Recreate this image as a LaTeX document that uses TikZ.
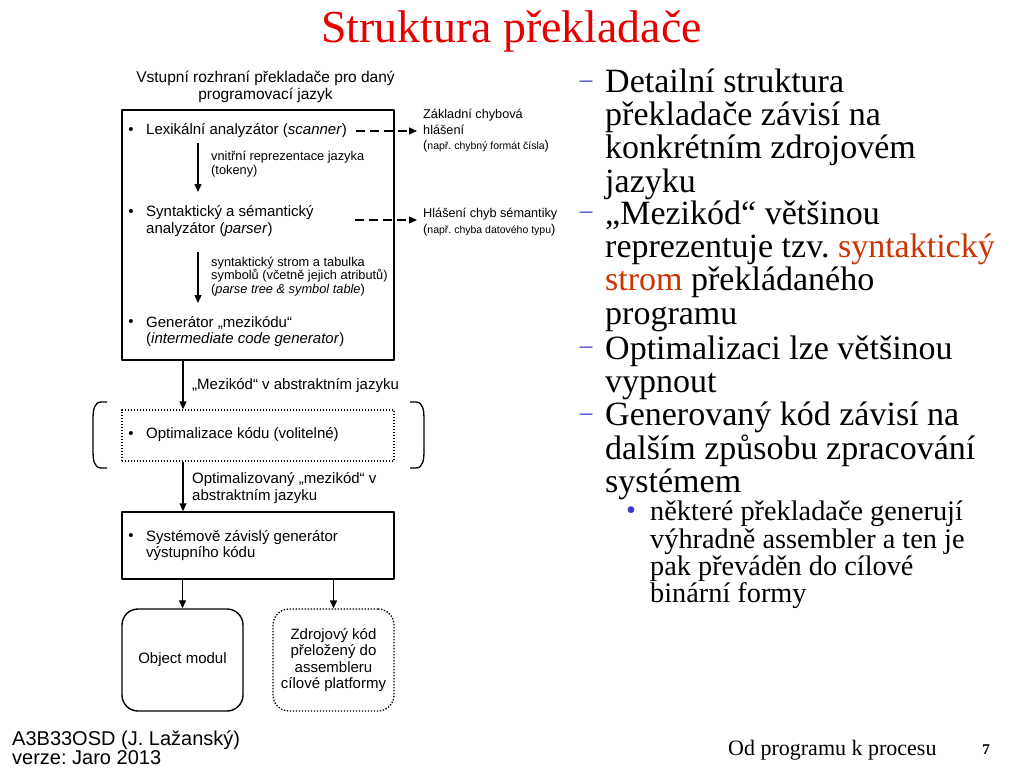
\documentclass[tikz,border=0pt]{standalone}
\usepackage{fontspec}
\setmainfont{Liberation Serif}
\setsansfont{Liberation Sans}
\usetikzlibrary{arrows.meta,calc,positioning}
\frenchspacing
\definecolor{TitleRed}{HTML}{E60000}
\definecolor{TermRed}{HTML}{CC3300}
\definecolor{DashBlue}{HTML}{3A3AC4}
\newcommand{\diagfont}{\sffamily\fontsize{15}{16.5}\selectfont}
\newcommand{\notefont}{\sffamily\fontsize{12.8}{13.8}\selectfont}
\newcommand{\errfont}{\sffamily\fontsize{12.7}{15.5}\selectfont}
\newcommand{\slidefont}{\rmfamily\fontsize{34}{33.25}\selectfont}
\newcommand{\subfont}{\rmfamily\fontsize{28.3}{27.3}\selectfont}
\newcommand{\smallnote}[1]{{\fontsize{10.5}{12}\selectfont #1}}
\newcommand{\boxitem}[4]{%
  \node[inner sep=0pt,font=\diagfont] (#1dot) at (131,#3) {\textbullet};
  \node[itemtext] (#1) at (146,#2) {#4};
}
\tikzset{
  frame/.style={draw,line width=1.4pt,inner sep=0pt},
  dotframe/.style={draw,line width=1.3pt,dash pattern=on 1.4pt off 1.6pt,inner sep=0pt},
  itemtext/.style={inner sep=0pt,anchor=west,align=left,font=\diagfont},
  note/.style={inner sep=0pt,anchor=west,align=left,font=\notefont},
  errnote/.style={inner sep=0pt,anchor=west,align=left,font=\errfont},
  flow/.style={-{Triangle[length=8pt,width=7pt]},line width=1.3pt},
  errflow/.style={flow,dash pattern=on 9pt off 5pt},
  slidetext/.style={inner sep=0pt,anchor=west,align=left,font=\slidefont},
  dashmark/.style={inner sep=0pt,font=\rmfamily\fontsize{25}{25}\selectfont,text=DashBlue},
}

\begin{document}
\begin{tikzpicture}[x=1pt,y=-1pt,line join=round]
  \useasboundingbox[fill=white] (0,0) rectangle (1024,768);
  \node[font=\rmfamily\fontsize{45.8}{50}\selectfont,text=TitleRed,inner sep=0pt]
    (title) at (511.5,31) {Struktura překladače};
  % compiler stages
  \node[align=center,inner sep=0pt,font=\sffamily\fontsize{15.5}{17}\selectfont]
    (caption) at (265.5,86.5) {Vstupní rozhraní překladače pro daný\\programovací jazyk};
  \node[frame,minimum width=272,minimum height=250] (front) at (258,235) {};
  \node[dotframe,minimum width=272,minimum height=51] (opt) at (258,435.5) {};
  \node[frame,minimum width=272,minimum height=67] (back) at (258,545.5) {};
  \node[frame,rounded corners=16pt,minimum width=121,minimum height=102,
        font=\diagfont] (obj) at (182.5,660) {Object modul};
  \node[dotframe,rounded corners=16pt,minimum width=121,minimum height=102,
        align=center,font=\diagfont] (asm) at (333.5,660)
    {Zdrojový kód\\přeložený do\\assembleru\\cílové platformy};
  \boxitem{lex}{131}{131}{Lexikální analyzátor (\textit{scanner})}
  \boxitem{syn}{221}{213}{Syntaktický a sémantický\\analyzátor (\textit{parser})}
  \boxitem{gen}{331.5}{323}{Generátor „mezikódu“\\(\textit{intermediate code generator})}
  \boxitem{optim}{435}{435}{Optimalizace kódu (volitelné)}
  \boxitem{sysgen}{545.5}{537}{Systémově závislý generátor\\výstupního kódu}
  \node[note] (tok) at (211,164.5) {vnitřní reprezentace jazyka\\(tokeny)};
  \node[note] (tree) at (211,276.5)
    {syntaktický strom a tabulka\\symbolů (včetně jejich atributů)\\(\textit{parse tree \& symbol table})};
  \node[itemtext] (mez) at (192,386) {„Mezikód“ v abstraktním jazyku};
  \node[itemtext] (optmez) at (192,488) {Optimalizovaný „mezikód“ v\\abstraktním jazyku};
  \node[errnote] (err1) at (423,131)
    {Základní chybová\\hlášení\\(\smallnote{např. chybný formát čísla})};
  \node[errnote] (err2) at (423,222)
    {Hlášení chyb sémantiky\\(\smallnote{např. chyba datového typu})};
  \coordinate (tokA) at (198,143);
  \coordinate (tokB) at (198,192);
  \coordinate (treeA) at (198,252);
  \coordinate (treeB) at (198,303);
  \coordinate (axis) at (183,0);
  \coordinate (semerr) at (355,220);
  \draw[flow] (tokA) -- (tokB);
  \draw[flow] (treeA) -- (treeB);
  \draw[errflow,shorten <=9pt,shorten >=6pt] (lex.east) -- (lex.east -| err1.west);
  \draw[errflow,shorten >=6pt] (semerr) -- (semerr -| err2.west);
  \draw[flow] (front.south -| axis) -- (opt.north -| axis);
  \draw[flow] (opt.south -| axis) -- (back.north -| axis);
  \draw[flow] (back.south -| obj.north) -- (obj.north);
  \draw[flow] (back.south -| asm.north) -- (asm.north);
  % optional step brackets
  \draw[line width=1.3pt] (107,402) -- (101,402) to[out=180,in=90] (93,418)
    -- (93,452) to[out=-90,in=180] (101,468) -- (107,468);
  \draw[line width=1.3pt] (410,402) -- (416,402) to[out=0,in=90] (424,418)
    -- (424,452) to[out=-90,in=0] (416,468) -- (410,468);
  % slide text
  \node[dashmark] (dash1) at (586,84) {–};
  \node[dashmark] (dash2) at (586,215) {–};
  \node[dashmark] (dash3) at (586,350) {–};
  \node[dashmark] (dash4) at (586,417) {–};
  \node[slidetext] (pt1) at (605,134)
    {Detailní struktura\\překladače závisí na\\konkrétním zdrojovém\\jazyku};
  \node[slidetext] (pt2) at (605,266)
    {„Mezikód“ většinou\\reprezentuje tzv. \textcolor{TermRed}{syntaktický}\\\textcolor{TermRed}{strom} překládaného\\programu};
  \node[slidetext] (pt3) at (605,367.5) {Optimalizaci lze většinou\\vypnout};
  \node[slidetext] (pt4) at (605,451) {Generovaný kód závisí na\\dalším způsobu zpracování\\systémem};
  \node[inner sep=0pt,font=\subfont,text=DashBlue] (subdot) at (631,513) {•};
  \node[slidetext,font=\subfont] (sub) at (650,555)
    {některé překladače generují\\výhradně assembler a ten je\\pak převáděn do cílové\\binární formy};
  % footer
  \node[inner sep=0pt,anchor=west,align=left,font=\sffamily\fontsize{20}{19}\selectfont]
    (course) at (12,747.5) {A3B33OSD (J. Lažanský)\\verze: Jaro 2013};
  \node[inner sep=0pt,anchor=west,font=\rmfamily\fontsize{22}{24}\selectfont]
    (topic) at (728,750) {Od programu k procesu};
  \node[inner sep=0pt,font=\rmfamily\bfseries\fontsize{15}{18}\selectfont]
    (page) at (986,750) {7};
\end{tikzpicture}
\end{document}
